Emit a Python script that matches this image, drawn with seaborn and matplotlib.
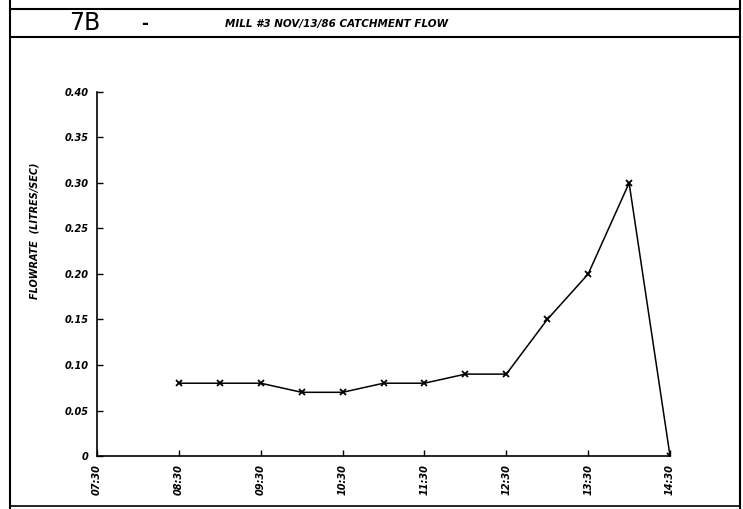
import matplotlib
matplotlib.use("Agg")
import matplotlib.pyplot as plt
import seaborn as sns
import pandas as pd
from matplotlib.lines import Line2D

times = ["08:30", "09:00", "09:30", "10:00", "10:30", "11:00", "11:30",
         "12:00", "12:30", "13:00", "13:30", "14:00", "14:30"]
flow = [0.08, 0.08, 0.08, 0.07, 0.07, 0.08, 0.08, 0.09, 0.09, 0.15, 0.20, 0.30, 0.00]
xtick_labels = ["07:30", "08:30", "09:30", "10:30", "11:30", "12:30", "13:30", "14:30"]
ytick_values = [0, 0.05, 0.10, 0.15, 0.20, 0.25, 0.30, 0.35, 0.40]
ytick_labels = ["0", "0.05", "0.10", "0.15", "0.20", "0.25", "0.30", "0.35", "0.40"]

def to_hours(t):
    h, m = t.split(":")
    return int(h) + int(m) / 60.0

df = pd.DataFrame({"hour": [to_hours(t) for t in times], "flow": flow})

sns.set_style("white")
plt.rcParams['font.family'] = ['DejaVu Sans']
plt.rcParams['text.color'] = 'black'
plt.rcParams['axes.labelcolor'] = 'black'
plt.rcParams['xtick.color'] = 'black'
plt.rcParams['ytick.color'] = 'black'

fig = plt.figure(figsize=(7.43, 5.09), dpi=100)
ax = fig.add_axes([0.1306, 0.1041, 0.7712, 0.7152])

sns.lineplot(data=df, x="hour", y="flow", ax=ax, color="black", linewidth=1.1,
             marker="x", markersize=5, markeredgewidth=1.3, markeredgecolor="black")

ax.set_xlim(7.5, 14.5)
ax.set_ylim(0, 0.40)
ax.set_xticks([to_hours(t) for t in xtick_labels])
ax.set_xticklabels(xtick_labels, rotation=90, fontsize=7, fontweight="bold", style="italic")
ax.set_yticks(ytick_values)
ax.set_yticklabels(ytick_labels, fontsize=7, fontweight="bold", style="italic")
ax.tick_params(axis="both", which="major", bottom=True, left=True, direction="in",
               length=4, width=1, colors="black", pad=6)
ax.set_xlabel("")
ax.set_ylabel("FLOWRATE  (LITRES/SEC)", fontsize=7, fontweight="bold", style="italic")
ax.yaxis.set_label_coords(-0.10, 0.62)

for s in ["top", "right"]:
    ax.spines[s].set_visible(False)
for s in ["left", "bottom"]:
    ax.spines[s].set_color("black")
    ax.spines[s].set_linewidth(1.2)

# Frame lines
def fline(x0, y0, x1, y1, lw=1.5):
    fig.add_artist(Line2D([x0 / 743, x1 / 743], [1 - y0 / 509, 1 - y1 / 509],
                          color="black", linewidth=lw, transform=fig.transFigure))

fline(10, 9, 740, 9)
fline(10, 37, 740, 37)
fline(10, 0, 10, 509)
fline(740, 0, 740, 509)
fline(10, 506, 740, 506, lw=1.2)

fig.text(85 / 743, 1 - 23 / 509, "7B", fontsize=17, ha="center", va="center",
         family="DejaVu Sans Condensed", color="black")
fig.text(145 / 743, 1 - 24 / 509, "-", fontsize=12, fontweight="bold", ha="center", va="center",
         color="black")
fig.text(225 / 743, 1 - 24 / 509, "MILL #3 NOV/13/86 CATCHMENT FLOW", fontsize=7.5,
         fontweight="bold", style="italic", ha="left", va="center", color="black")

fig.savefig("out.png", dpi=100, facecolor="white")
